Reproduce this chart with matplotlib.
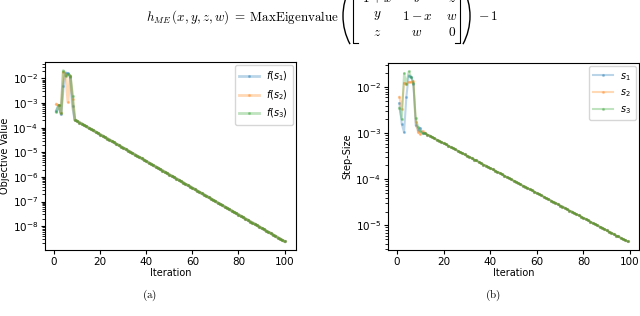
import numpy as np
import matplotlib
matplotlib.use("Agg")
import matplotlib.pyplot as plt
from matplotlib.patches import Arc
from matplotlib.lines import Line2D
from matplotlib.transforms import IdentityTransform

# ---- data ----
# objective values, iterations 1..8 (oscillating start)
obj_head_s1 = [5.0e-4, 8.0e-4, 3.5e-4, 5.0e-3, 1.7e-2, 1.6e-2, 1.2e-2, 7.5e-4]
obj_head_s2 = [9.0e-4, 8.0e-4, 4.0e-4, 1.8e-2, 1.4e-2, 1.1e-3, 1.3e-2, 1.5e-3]
obj_head_s3 = [4.5e-4, 8.0e-4, 4.0e-4, 2.1e-2, 1.3e-2, 1.5e-2, 1.3e-2, 1.9e-3]
# shared tail, iterations 9..100, as log10 values
obj_tail_log = [
    -3.68, -3.73, -3.79, -3.84, -3.90, -3.95, -4.01, -4.06, -4.11, -4.17,
    -4.22, -4.28, -4.33, -4.39, -4.44, -4.49, -4.55, -4.60, -4.66, -4.71,
    -4.77, -4.82, -4.87, -4.93, -4.98, -5.04, -5.09, -5.15, -5.20, -5.25,
    -5.31, -5.36, -5.42, -5.47, -5.53, -5.58, -5.63, -5.69, -5.74, -5.80,
    -5.85, -5.91, -5.96, -6.01, -6.07, -6.12, -6.18, -6.23, -6.29, -6.34,
    -6.39, -6.45, -6.50, -6.56, -6.61, -6.67, -6.72, -6.77, -6.83, -6.88,
    -6.94, -6.99, -7.05, -7.10, -7.15, -7.21, -7.26, -7.32, -7.37, -7.43,
    -7.48, -7.53, -7.59, -7.64, -7.70, -7.75, -7.81, -7.86, -7.91, -7.97,
    -8.02, -8.08, -8.13, -8.19, -8.24, -8.29, -8.35, -8.40, -8.46, -8.51,
    -8.57, -8.62,
]

# step sizes, iterations 1..11
step_head_s1 = [4.5e-3, 1.6e-3, 1.05e-3, 6.3e-3, 1.8e-2, 1.7e-2, 1.2e-2, 1.5e-3, 1.2e-3, 1.3e-3, 1.0e-3]
step_head_s2 = [6.2e-3, 3.3e-3, 1.25e-2, 1.2e-2, 1.3e-2, 1.3e-2, 1.35e-2, 1.8e-3, 1.05e-3, 9.5e-4, 1.1e-3]
step_head_s3 = [3.6e-3, 2.0e-3, 2.0e-2, 1.2e-2, 2.2e-2, 1.7e-2, 1.25e-2, 2.1e-3, 1.4e-3, 1.1e-3, 1.0e-3]
# shared tail, iterations 12..99, as log10 values
step_tail_log = [
    -3.00, -3.03, -3.05, -3.08, -3.11, -3.14, -3.16, -3.19, -3.22, -3.24,
    -3.27, -3.30, -3.32, -3.35, -3.38, -3.41, -3.43, -3.46, -3.49, -3.51,
    -3.54, -3.57, -3.59, -3.62, -3.65, -3.68, -3.70, -3.73, -3.76, -3.78,
    -3.81, -3.84, -3.86, -3.89, -3.92, -3.95, -3.97, -4.00, -4.03, -4.05,
    -4.08, -4.11, -4.14, -4.16, -4.19, -4.22, -4.24, -4.27, -4.30, -4.32,
    -4.35, -4.38, -4.41, -4.43, -4.46, -4.49, -4.51, -4.54, -4.57, -4.59,
    -4.62, -4.65, -4.68, -4.70, -4.73, -4.76, -4.78, -4.81, -4.84, -4.86,
    -4.89, -4.92, -4.95, -4.97, -5.00, -5.03, -5.05, -5.08, -5.11, -5.14,
    -5.16, -5.19, -5.22, -5.24, -5.27, -5.30, -5.32, -5.35,
]

obj_labels = [r"$f(s_1)$", r"$f(s_2)$", r"$f(s_3)$"]
step_labels = [r"$s_1$", r"$s_2$", r"$s_3$"]

obj_tail = list(10.0 ** np.array(obj_tail_log))
step_tail = list(10.0 ** np.array(step_tail_log))
obj_series = [h + obj_tail for h in (obj_head_s1, obj_head_s2, obj_head_s3)]
step_series = [h + step_tail for h in (step_head_s1, step_head_s2, step_head_s3)]
obj_iters = np.arange(1, len(obj_series[0]) + 1)
step_iters = np.arange(1, len(step_series[0]) + 1)

colors = ["#1f77b4", "#ff7f0e", "#2ca02c"]

W, H = 640, 316
fig = plt.figure(figsize=(W / 100, H / 100), dpi=100)

ax1 = fig.add_axes([45 / W, 1 - 250 / H, 251 / W, 188 / H])
ax2 = fig.add_axes([388 / W, 1 - 250 / H, 251 / W, 187 / H])

for ys, lab, c in zip(obj_series, obj_labels, colors):
    ax1.plot(obj_iters, ys, marker=".", ms=2.5, lw=2, alpha=0.3, color=c, label=lab)
for ys, lab, c in zip(step_series, step_labels, colors):
    ax2.plot(step_iters, ys, marker=".", ms=2.5, lw=1.5, alpha=0.3, color=c, label=lab)

for ax, ylab in ((ax1, "Objective Value"), (ax2, "Step-Size")):
    ax.set_yscale("log")
    ax.set_xticks([0, 20, 40, 60, 80, 100])
    ax.tick_params(labelsize=7.5, length=3, pad=2)
    ax.set_xlabel("Iteration", fontsize=7, labelpad=1)
    ax.set_ylabel(ylab, fontsize=7, labelpad=2)
    ax.legend(loc="upper right", fontsize=7, handlelength=2.0,
              borderpad=0.45, labelspacing=0.5, borderaxespad=0.35)

# sub-figure captions
fig.text(150 / W, 1 - 295 / H, r"$\mathrm{(a)}$", ha="center", va="center",
         fontsize=8, math_fontfamily="cm")
fig.text(493 / W, 1 - 295 / H, r"$\mathrm{(b)}$", ha="center", va="center",
         fontsize=8, math_fontfamily="cm")

# formula at the top (partly cut off in the reference)
fig.text(339 / W, 1 - 17 / H, r"$h_{ME}\,(x, y, z, w)\;=\;\mathrm{MaxEigenvalue}$",
         ha="right", va="center", fontsize=9.4, math_fontfamily="cm")
cols_x = [377, 417, 452]
rows_y = [-2, 16, 33]
cells = [[r"$1+x$", r"$y$", r"$z$"],
         [r"$y$", r"$1-x$", r"$w$"],
         [r"$z$", r"$w$", r"$0$"]]
for r, yy in enumerate(rows_y):
    for c, xx in enumerate(cols_x):
        fig.text(xx / W, 1 - yy / H, cells[r][c], ha="center", va="center",
                 fontsize=9.6, math_fontfamily="cm")
fig.text(478 / W, 1 - 17 / H, r"$-\,1$", ha="left", va="center",
         fontsize=9.6, math_fontfamily="cm")

ident = IdentityTransform()
# square brackets
top, bot = H + 10, H - 43
for xb, sgn in ((353, 1), (460, -1)):
    fig.add_artist(Line2D([xb + 5 * sgn, xb, xb, xb + 5 * sgn], [top, top, bot, bot],
                          transform=ident, color="black", lw=0.8))
# parentheses
R = 60
cy = H - 16
fig.add_artist(Arc((343 + R, cy), 2 * R, 2 * R, theta1=152, theta2=208,
                   transform=ident, color="black", lw=1.0))
fig.add_artist(Arc((470 - R, cy), 2 * R, 2 * R, theta1=-28, theta2=28,
                   transform=ident, color="black", lw=1.0))

fig.savefig("out.png", dpi=100, facecolor="white")
